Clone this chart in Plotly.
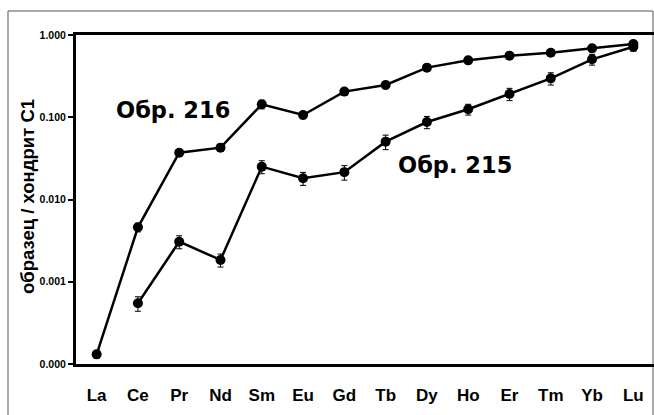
import plotly.graph_objects as go

# REE chondrite-normalised patterns
elements = ["La", "Ce", "Pr", "Nd", "Sm", "Eu", "Gd", "Tb", "Dy", "Ho", "Er", "Tm", "Yb", "Lu"]

sample_216 = [0.000131, 0.00459, 0.0371, 0.0427, 0.1436, 0.1065, 0.205, 0.247,
              0.401, 0.492, 0.561, 0.609, 0.689, 0.777]
rel_err_216 = [0.10, 0.12, 0.08, 0.10, 0.12, 0.10, 0.06, 0.10, 0.06, 0.05, 0.05, 0.06, 0.10, 0.06]

elements_215 = ["Ce", "Pr", "Nd", "Sm", "Eu", "Gd", "Tb", "Dy", "Ho", "Er", "Tm", "Yb", "Lu"]
sample_215 = [0.000547, 0.00307, 0.00184, 0.0251, 0.0181, 0.0215, 0.0505,
              0.0875, 0.125, 0.192, 0.297, 0.506, 0.721]
rel_err_215 = [0.20, 0.18, 0.18, 0.18, 0.18, 0.20, 0.20, 0.17, 0.15, 0.17, 0.17, 0.15, 0.12]

y_tickvals = [0.0001, 0.001, 0.01, 0.1, 1]
y_ticktext = ["0.000", "0.001", "0.010", "0.100", "1.000"]

FONT = "Liberation Sans, Arial, sans-serif"


def trace(xs, ys, errs):
    return go.Scatter(
        x=xs, y=ys, mode="lines+markers",
        line=dict(color="black", width=2.5),
        marker=dict(color="black", size=10),
        error_y=dict(type="data", symmetric=False,
                     array=[v * e for v, e in zip(ys, errs)],
                     arrayminus=[v * e for v, e in zip(ys, errs)],
                     color="black", thickness=1, width=3),
        showlegend=False, cliponaxis=False,
    )


fig = go.Figure()
fig.add_trace(trace(elements, sample_216, rel_err_216))
fig.add_trace(trace(elements_215, sample_215, rel_err_215))

fig.update_layout(
    width=654, height=415,
    margin=dict(l=76, r=0, t=35, b=51),
    paper_bgcolor="white", plot_bgcolor="white",
    font=dict(family=FONT, color="black"),
    xaxis=dict(
        type="category", categoryorder="array", categoryarray=elements,
        range=[-0.5, 13.5], showgrid=False, zeroline=False,
        showline=True, linecolor="black", linewidth=2.5, mirror=True,
        ticks="", tickfont=dict(size=17, weight="bold"),
        ticklabelstandoff=14,
    ),
    yaxis=dict(
        type="log", range=[-4, 0], showgrid=False, zeroline=False,
        showline=True, linecolor="black", linewidth=3,
        tickvals=y_tickvals, ticktext=y_ticktext,
        ticks="outside", ticklen=5, tickwidth=1.5, tickcolor="black",
        tickfont=dict(size=10.5, weight="bold"),
    ),
    annotations=[
        dict(text="образец / хондрит С1", textangle=-90, xref="paper", yref="paper",
             x=-0.085, y=0.51, xanchor="center", yanchor="middle", showarrow=False,
             font=dict(size=18.5, weight="bold", family=FONT)),
        dict(text="Обр. 216", xref="paper", yref="paper",
             x=(173 - 76) / 578, y=(364 - 110) / 329, xanchor="center", yanchor="middle",
             showarrow=False, font=dict(size=22.5, weight="bold", family="DejaVu Sans")),
        dict(text="Обр. 215", xref="paper", yref="paper",
             x=(455 - 76) / 578, y=(364 - 165) / 329, xanchor="center", yanchor="middle",
             showarrow=False, font=dict(size=22.5, weight="bold", family="DejaVu Sans")),
    ],
    shapes=[
        dict(type="rect", xref="paper", yref="paper",
             x0=(8 - 76) / 578, x1=(653 - 76) / 578,
             y0=(364 - 420) / 329, y1=(364 - 11) / 329,
             line=dict(color="#555555", width=1), layer="below"),
    ],
)

fig.write_html("out.html")
